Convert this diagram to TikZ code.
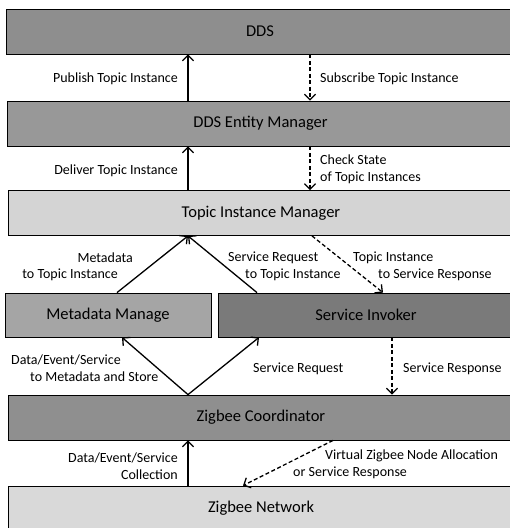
\documentclass[tikz,border=0pt]{standalone}
\usepackage{fontspec}
\setmainfont{Carlito}
\usetikzlibrary{arrows.meta}
\definecolor{cdds}{HTML}{8E8E8E}
\definecolor{cdem}{HTML}{989898}
\definecolor{ctim}{HTML}{D4D4D4}
\definecolor{cmm}{HTML}{A5A5A5}
\definecolor{csi}{HTML}{7A7A7A}
\definecolor{czc}{HTML}{8F8F8F}
\definecolor{czn}{HTML}{D9D9D9}
\begin{document}
\begin{tikzpicture}[x=1pt,y=-1pt,
 box/.style={draw=black, line width=0.8pt, minimum height=45pt, inner sep=0pt, font=\fontsize{16.5}{18}\selectfont},
 lbl/.style={font=\fontsize{14}{17}\selectfont, inner sep=0pt, yshift=-1.5pt},
 arr/.style={line width=1.3pt, -{Straight Barb[length=5.5pt,width=11pt]}},
 darr/.style={arr, dash pattern=on 4pt off 2.5pt}]
\useasboundingbox (0,0) rectangle (510,528);
\clip (0,0) rectangle (510,528);
% boxes
\node[box, fill=cdds, minimum width=508pt] (dds) at (260,31.5) {DDS};
\node[box, fill=cdem, minimum width=507pt] (dem) at (260.5,123.5) {DDS Entity Manager};
\node[box, fill=ctim, minimum width=506pt] (tim) at (261,213) {Topic Instance Manager};
\node[box, fill=cmm, minimum width=206pt, minimum height=44pt] (mm) at (108,315) {Metadata Manage};
\node[box, fill=csi, minimum width=296pt, minimum height=44pt] (si) at (366,315) {Service Invoker};
\node[box, fill=czc, minimum width=506pt] (zc) at (261,417.5) {Zigbee Coordinator};
\node[box, fill=czn, minimum width=506pt] (zn) at (261,508.5) {Zigbee Network};
% reference coordinates
\coordinate (xa) at (188,0);
\coordinate (xb) at (310,0);
\coordinate (xs) at (392,0);
\coordinate (mmA) at (117,0);
\coordinate (siA) at (257,0);
\coordinate (timA) at (312,0);
\coordinate (siB) at (383,0);
\coordinate (mmB) at (122,0);
\coordinate (siC) at (259,0);
\coordinate (zcA) at (333,0);
\coordinate (znA) at (243,0);
% connectors
\draw[arr] (dem.north -| xa) -- (dds.south -| xa);
\draw[darr] (dds.south -| xb) -- (dem.north -| xb);
\draw[arr] (tim.north -| xa) -- (dem.south -| xa);
\draw[darr] (dem.south -| xb) -- (tim.north -| xb);
\draw[arr] (mm.north -| mmA) -- (tim.south -| xa);
\draw[arr] (si.north -| siA) -- (tim.south -| xa);
\draw[darr] (tim.south -| timA) -- (si.north -| siB);
\draw[arr] (zc.north -| xa) -- (mm.south -| mmB);
\draw[arr] (zc.north -| xa) -- (si.south -| siC);
\draw[darr] (si.south -| xs) -- (zc.north -| xs);
\draw[arr] (zn.north -| xa) -- (zc.south -| xa);
\draw[darr] (zc.south -| zcA) -- (zn.north -| znA);
% labels
\node[lbl, anchor=east] (l1) at (178,77) {Publish Topic Instance};
\node[lbl, anchor=west] (l2) at (320,77) {Subscribe Topic Instance};
\node[lbl, anchor=east] (l3) at (178,169) {Deliver Topic Instance};
\node[lbl, anchor=west, align=left] (l4) at (320,167.5) {Check State\\of Topic Instances};
\node[lbl, anchor=east] (l5a) at (133,256) {Metadata};
\node[lbl, anchor=east] (l5b) at (118,273) {to Topic Instance};
\node[lbl, anchor=west] (l6a) at (228,256) {Service Request};
\node[lbl, anchor=west] (l6b) at (245,273) {to Topic Instance};
\node[lbl, anchor=west] (l7a) at (353,256) {Topic Instance};
\node[lbl, anchor=west] (l7b) at (378,273) {to Service Response};
\node[lbl, anchor=west] (l8a) at (11,358) {Data/Event/Service};
\node[lbl, anchor=west] (l8b) at (30,375) {to Metadata and Store};
\node[lbl, anchor=west] (l9) at (253,367) {Service Request};
\node[lbl, anchor=west] (l10) at (403,367) {Service Response};
\node[lbl, anchor=east, align=right] (l11) at (178,465) {Data/Event/Service\\Collection};
\node[lbl, anchor=west] (l12a) at (325,454) {Virtual Zigbee Node Allocation};
\node[lbl, anchor=west] (l12b) at (293,471) {or Service Response};
\end{tikzpicture}
\end{document}
